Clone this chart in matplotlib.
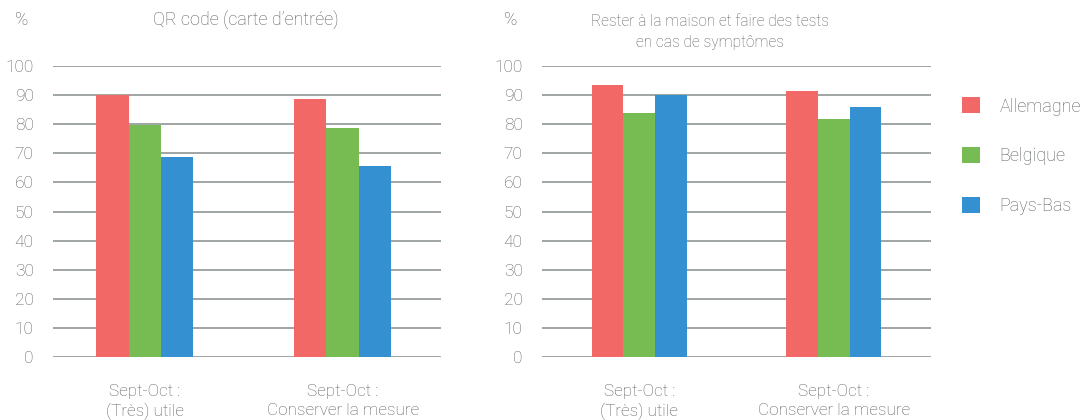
import matplotlib
matplotlib.use('Agg')
import matplotlib.pyplot as plt
import numpy as np

# data
groups = ['Sept-Oct :\n(Très) utile', 'Sept-Oct :\nConserver la mesure']
countries = ['Allemagne', 'Belgique', 'Pays-Bas']
colors = ['#F26866', '#77BC52', '#3490D0']

qr_values = {
    'Allemagne': [90, 88.7],
    'Belgique': [79.7, 78.7],
    'Pays-Bas': [68.8, 65.7],
}
home_values = {
    'Allemagne': [93.4, 91.3],
    'Belgique': [83.8, 81.6],
    'Pays-Bas': [89.8, 85.8],
}
yticks = list(range(0, 101, 10))

plt.rcParams['font.family'] = ['Roboto', 'DejaVu Sans']
plt.rcParams['font.weight'] = 'light'
text_col = '#5a5f5e'
grid_col = '#8f9694'

fig = plt.figure(figsize=(10.87, 4.2), dpi=100)
ax1 = fig.add_axes([53 / 1087, 1 - 357.3 / 420, 388 / 1087, 291.6 / 420])
ax2 = fig.add_axes([542 / 1087, 1 - 357.3 / 420, 389 / 1087, 291.6 / 420])

bar_w = 0.163
x = np.arange(len(groups))


def draw(ax, values, xlim):
    for i, c in enumerate(countries):
        ax.bar(x + (i - 1) * bar_w, values[c], width=bar_w, color=colors[i],
               label=c, zorder=3)
    ax.set_ylim(0, 100)
    ax.set_xlim(*xlim)
    ax.set_yticks(yticks)
    ax.set_yticklabels([str(t) for t in yticks], fontsize=12.5)
    for t in yticks:
        ax.axhline(t, color=grid_col, lw=1.2, zorder=1)
    ax.set_xticks(x)
    ax.set_xticklabels(groups, linespacing=1.3, fontsize=12.3)
    ax.tick_params(axis='both', length=0, colors=text_col)
    ax.tick_params(axis='y', pad=14)
    ax.tick_params(axis='x', pad=19.5)
    for s in ax.spines.values():
        s.set_visible(False)


draw(ax1, qr_values, (-0.463, 1.497))
draw(ax2, home_values, (-0.5, 1.5))

fig.text(22 / 1087, 1 - 20 / 420, '%', ha='center', va='center', fontsize=13, color=text_col)
fig.text(511 / 1087, 1 - 20 / 420, '%', ha='center', va='center', fontsize=13, color=text_col)
fig.text(246 / 1087, 1 - 20 / 420, 'QR code (carte d\u2019entrée)', ha='center', va='center',
         fontsize=13, color=text_col)
fig.text(710 / 1087, 1 - 31.5 / 420, 'Rester à la maison et faire des tests\nen cas de symptômes',
         ha='center', va='center', fontsize=11.2, color=text_col, linespacing=1.5)

fig.legend(*ax2.get_legend_handles_labels(), loc='upper left',
           bbox_to_anchor=(946 / 1087, 1 - 81 / 420), frameon=False,
           handlelength=1.0, handleheight=1.0, handletextpad=1.05,
           labelspacing=1.75, fontsize=13, labelcolor=text_col)

fig.savefig('out.png', dpi=100)
